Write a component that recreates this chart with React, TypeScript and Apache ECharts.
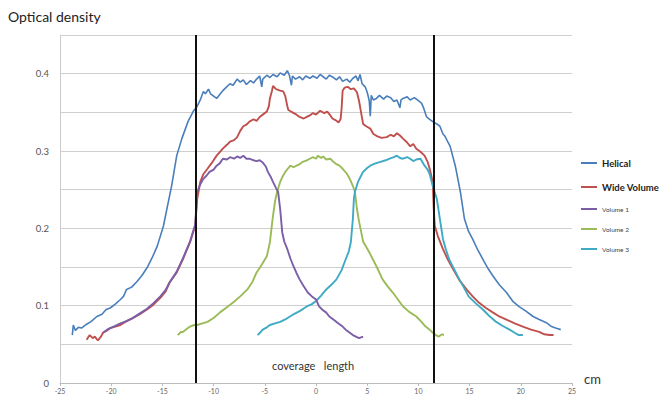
import React, { useEffect, useRef } from "react";
import * as echarts from "echarts";

const X_TICKS = [-25, -20, -15, -10, -5, 0, 5, 10, 15, 20, 25];
const Y_LABELS = [0, 0.1, 0.2, 0.3, 0.4];
const COVERAGE_EDGES = [-11.7, 11.5];
const SERIES_NAMES = ["Helical", "Wide Volume", "Volume 1", "Volume 2", "Volume 3"];
const COLORS = ["#4a7ebb", "#c0504d", "#7b5ea7", "#9bbb59", "#3faac4"];

const helical = [
  [-23.8,0.062],[-23.7,0.075],[-23.5,0.068],[-23.2,0.072],[-22.9,0.071],[-22.4,0.076],[-22.0,0.079],[-21.4,0.086],[-20.9,0.089],[-20.5,0.095],[-20.1,0.097],[-19.6,0.102],[-19.1,0.108],[-18.8,0.112],[-18.5,0.121],[-18.0,0.124],[-17.5,0.131],[-17.0,0.139],[-16.5,0.149],[-16.0,0.162],[-15.5,0.177],[-14.9,0.203],[-14.5,0.229],[-14.1,0.255],[-13.6,0.294],[-13.1,0.316],[-12.5,0.338],[-12.0,0.351],[-11.6,0.358],[-11.3,0.366],[-11.0,0.377],[-10.8,0.374],[-10.5,0.380],[-10.3,0.374],[-10.0,0.371],[-9.7,0.368],[-9.4,0.373],[-9.1,0.378],[-8.8,0.382],[-8.4,0.387],[-8.1,0.385],[-7.7,0.393],[-7.4,0.389],[-7.1,0.392],[-6.8,0.386],[-6.4,0.391],[-6.1,0.388],[-5.8,0.393],[-5.5,0.397],[-5.3,0.383],[-5.2,0.393],[-4.8,0.398],[-4.5,0.395],[-4.2,0.399],[-3.8,0.396],[-3.5,0.401],[-3.1,0.398],[-2.8,0.404],[-2.6,0.398],[-2.4,0.385],[-2.3,0.397],[-2.0,0.393],[-1.6,0.396],[-1.3,0.392],[-1.0,0.397],[-0.6,0.394],[-0.3,0.397],[0.1,0.394],[0.4,0.399],[0.7,0.396],[1.0,0.393],[1.3,0.398],[1.7,0.395],[2.0,0.392],[2.3,0.396],[2.6,0.390],[3.0,0.393],[3.3,0.389],[3.6,0.394],[3.9,0.397],[4.1,0.391],[4.3,0.399],[4.5,0.387],[4.8,0.383],[5.0,0.376],[5.2,0.365],[5.3,0.345],[5.4,0.372],[5.6,0.366],[5.9,0.368],[6.2,0.372],[6.6,0.367],[6.9,0.371],[7.3,0.369],[7.6,0.364],[7.9,0.366],[8.2,0.356],[8.3,0.366],[8.5,0.368],[8.9,0.370],[9.2,0.366],[9.6,0.369],[10.0,0.365],[10.3,0.362],[10.5,0.356],[10.8,0.344],[11.1,0.341],[11.4,0.338],[11.8,0.335],[12.1,0.332],[12.4,0.322],[12.6,0.319],[12.9,0.311],[13.1,0.306],[13.6,0.281],[14.1,0.247],[14.5,0.212],[14.9,0.196],[15.3,0.186],[15.8,0.172],[16.3,0.160],[16.8,0.148],[17.3,0.138],[17.9,0.127],[18.6,0.117],[19.2,0.106],[19.8,0.099],[20.5,0.093],[21.2,0.086],[21.8,0.082],[22.5,0.078],[23.0,0.073],[23.4,0.071],[23.9,0.069]
];

const wideVolume = [
  [-22.4,0.056],[-22.1,0.062],[-21.8,0.058],[-21.6,0.060],[-21.3,0.055],[-21.0,0.060],[-20.8,0.065],[-20.4,0.068],[-20.1,0.071],[-19.6,0.073],[-19.1,0.075],[-18.5,0.080],[-17.9,0.084],[-17.2,0.089],[-16.5,0.095],[-15.9,0.101],[-15.2,0.110],[-14.7,0.118],[-14.3,0.130],[-13.6,0.143],[-13.0,0.160],[-12.3,0.182],[-11.8,0.203],[-11.6,0.238],[-11.3,0.260],[-11.0,0.270],[-10.6,0.277],[-10.1,0.286],[-9.7,0.294],[-9.1,0.303],[-8.7,0.308],[-8.4,0.312],[-8.0,0.314],[-7.7,0.318],[-7.4,0.326],[-7.1,0.332],[-6.8,0.334],[-6.5,0.338],[-6.1,0.341],[-5.8,0.339],[-5.5,0.344],[-5.1,0.348],[-4.8,0.351],[-4.6,0.358],[-4.5,0.368],[-4.3,0.378],[-4.2,0.384],[-3.9,0.380],[-3.5,0.378],[-3.2,0.377],[-3.0,0.371],[-2.8,0.358],[-2.7,0.353],[-2.3,0.350],[-1.9,0.347],[-1.6,0.344],[-1.2,0.342],[-0.9,0.344],[-0.6,0.346],[-0.3,0.349],[0.0,0.347],[0.4,0.352],[0.8,0.349],[1.1,0.351],[1.4,0.346],[1.6,0.342],[1.9,0.340],[2.2,0.337],[2.4,0.341],[2.5,0.355],[2.6,0.378],[2.8,0.382],[3.1,0.383],[3.4,0.380],[3.7,0.381],[4.0,0.376],[4.2,0.365],[4.4,0.350],[4.6,0.335],[4.9,0.332],[5.3,0.329],[5.6,0.322],[6.0,0.319],[6.4,0.317],[6.9,0.318],[7.3,0.321],[7.6,0.319],[7.9,0.323],[8.2,0.320],[8.5,0.316],[8.9,0.311],[9.2,0.306],[9.5,0.309],[9.8,0.303],[10.2,0.299],[10.6,0.294],[10.9,0.286],[11.1,0.277],[11.4,0.260],[11.5,0.225],[11.6,0.203],[11.9,0.190],[12.4,0.173],[12.9,0.159],[13.4,0.147],[14.0,0.133],[14.7,0.121],[15.3,0.112],[15.9,0.104],[16.6,0.097],[17.3,0.091],[17.9,0.086],[18.6,0.082],[19.4,0.077],[20.2,0.073],[21.0,0.069],[21.8,0.066],[22.3,0.063],[22.8,0.062],[23.2,0.062]
];

const volume1 = [
  [-20.8,0.065],[-20.4,0.069],[-20.1,0.071],[-19.6,0.074],[-19.1,0.077],[-18.5,0.080],[-17.9,0.084],[-17.2,0.090],[-16.5,0.096],[-15.9,0.103],[-15.2,0.112],[-14.7,0.120],[-14.3,0.130],[-13.6,0.144],[-13.0,0.161],[-12.3,0.183],[-11.8,0.205],[-11.7,0.225],[-11.6,0.247],[-11.3,0.257],[-11.0,0.264],[-10.7,0.268],[-10.4,0.273],[-10.0,0.276],[-9.7,0.281],[-9.4,0.284],[-9.1,0.290],[-8.7,0.289],[-8.4,0.292],[-8.0,0.290],[-7.7,0.293],[-7.4,0.291],[-7.1,0.294],[-6.8,0.290],[-6.5,0.290],[-6.1,0.288],[-5.8,0.287],[-5.5,0.288],[-5.2,0.285],[-4.9,0.280],[-4.7,0.273],[-4.4,0.266],[-4.2,0.260],[-3.9,0.252],[-3.7,0.247],[-3.5,0.225],[-3.3,0.195],[-3.1,0.183],[-2.8,0.173],[-2.5,0.161],[-2.2,0.151],[-1.9,0.142],[-1.6,0.134],[-1.2,0.125],[-0.8,0.117],[-0.4,0.112],[0.0,0.108],[0.3,0.099],[0.6,0.095],[1.0,0.091],[1.3,0.086],[1.7,0.082],[2.1,0.078],[2.6,0.073],[2.9,0.069],[3.2,0.066],[3.6,0.062],[3.9,0.060],[4.2,0.058],[4.6,0.060]
];

const volume2 = [
  [-13.5,0.062],[-13.2,0.066],[-13.0,0.066],[-12.6,0.070],[-12.3,0.073],[-11.9,0.075],[-11.6,0.075],[-11.1,0.077],[-10.6,0.079],[-10.0,0.084],[-9.4,0.091],[-8.8,0.097],[-8.1,0.104],[-7.4,0.112],[-6.7,0.121],[-6.2,0.131],[-5.8,0.143],[-5.3,0.153],[-4.8,0.164],[-4.5,0.182],[-4.3,0.205],[-4.2,0.216],[-4.0,0.235],[-3.8,0.247],[-3.5,0.260],[-3.3,0.266],[-3.0,0.273],[-2.7,0.278],[-2.5,0.281],[-2.2,0.279],[-1.9,0.281],[-1.6,0.283],[-1.3,0.286],[-0.9,0.288],[-0.6,0.290],[-0.3,0.292],[0.0,0.290],[0.2,0.294],[0.5,0.291],[0.7,0.293],[1.0,0.289],[1.4,0.290],[1.7,0.286],[2.0,0.283],[2.3,0.281],[2.6,0.277],[3.0,0.271],[3.3,0.264],[3.6,0.255],[3.8,0.247],[4.0,0.225],[4.2,0.209],[4.4,0.196],[4.6,0.183],[5.2,0.169],[5.9,0.151],[6.5,0.134],[7.0,0.125],[7.5,0.117],[8.0,0.108],[8.5,0.099],[9.1,0.092],[9.8,0.086],[10.3,0.079],[10.7,0.073],[11.1,0.069],[11.4,0.065],[11.7,0.062],[12.0,0.060],[12.3,0.063],[12.5,0.062]
];

const volume3 = [
  [-5.7,0.062],[-5.4,0.066],[-5.2,0.069],[-4.8,0.072],[-4.5,0.075],[-4.0,0.077],[-3.5,0.079],[-2.9,0.083],[-2.3,0.088],[-1.6,0.093],[-0.9,0.099],[-0.4,0.102],[0.0,0.106],[0.5,0.113],[1.0,0.121],[1.5,0.127],[2.0,0.134],[2.5,0.146],[2.9,0.160],[3.2,0.170],[3.4,0.182],[3.6,0.212],[3.7,0.238],[3.8,0.247],[4.1,0.260],[4.4,0.268],[4.6,0.273],[5.0,0.278],[5.3,0.281],[5.8,0.284],[6.3,0.286],[6.8,0.288],[7.2,0.290],[7.6,0.292],[7.9,0.294],[8.2,0.291],[8.5,0.290],[8.9,0.292],[9.2,0.290],[9.5,0.287],[9.8,0.289],[10.2,0.290],[10.6,0.281],[10.9,0.276],[11.1,0.270],[11.4,0.255],[11.8,0.238],[12.1,0.212],[12.4,0.186],[12.7,0.172],[13.0,0.160],[13.5,0.147],[14.0,0.134],[14.5,0.122],[14.9,0.112],[15.6,0.103],[16.3,0.095],[16.9,0.087],[17.6,0.079],[18.2,0.074],[18.9,0.069],[19.4,0.065],[19.8,0.062],[20.2,0.062]
];

const SERIES_DATA = [helical, wideVolume, volume1, volume2, volume3];
const FONT = "Lato, 'Open Sans', sans-serif";

export default function App() {
  const ref = useRef<HTMLDivElement>(null);
  useEffect(() => {
    if (!ref.current) return;
    document.body.style.margin = "0";
    const chart = echarts.init(ref.current, undefined, { renderer: "svg" });
    const series: any[] = SERIES_NAMES.map((name, i) => ({
      name,
      type: "line",
      data: SERIES_DATA[i],
      showSymbol: false,
      symbol: "none",
      lineStyle: { color: COLORS[i], width: i === 0 ? 1.6 : 1.9 },
      itemStyle: { color: COLORS[i] },
      z: i === 2 ? 4 : 3,
    }));
    series[0].markLine = {
      silent: true,
      symbol: "none",
      label: { show: false },
      lineStyle: { color: "#111", width: 2, type: "solid" },
      data: COVERAGE_EDGES.map((v) => ({ xAxis: v })),
    };
    const bigLabel = { fontSize: 9.5, fontWeight: "bold", color: "#222", fontFamily: FONT, lineHeight: 12 };
    const smallLabel = { fontSize: 6.5, color: "#444", fontFamily: FONT, lineHeight: 8 };
    chart.setOption({
      animation: false,
      backgroundColor: "#fff",
      grid: { left: 60, right: 98, top: 35, bottom: 16, containLabel: false },
      xAxis: {
        type: "value",
        min: X_TICKS[0],
        max: X_TICKS[X_TICKS.length - 1],
        interval: 5,
        splitLine: { show: false },
        axisLine: { show: true, onZero: false, lineStyle: { color: "#bbb", width: 1 } },
        axisTick: { show: true, length: 3, lineStyle: { color: "#bbb" } },
        axisLabel: { fontSize: 7, color: "#666", margin: 4, fontFamily: FONT },
      },
      yAxis: {
        type: "value",
        min: 0,
        max: 0.45,
        interval: 0.05,
        axisLine: { show: true, onZero: false, lineStyle: { color: "#ccc" } },
        axisTick: { show: false },
        splitLine: { show: true, lineStyle: { color: "#cfcfcf", width: 1.2 } },
        axisLabel: {
          fontSize: 9.5,
          color: "#555",
          margin: 11,
          fontFamily: FONT,
          formatter: (v: number) => {
            const hit = Y_LABELS.find((l) => Math.abs(l - v) < 1e-6);
            if (hit === undefined) return "";
            return hit === 0 ? "0" : hit.toFixed(1);
          },
        },
      },
      legend: {
        orient: "vertical",
        left: 581,
        top: 157,
        itemWidth: 16,
        itemHeight: 2,
        itemGap: 12,
        icon: "rect",
        padding: 0,
        data: SERIES_NAMES.map((n, i) => ({
          name: n,
          textStyle: i < 2 ? bigLabel : smallLabel,
        })),
      },
      graphic: [
        { type: "text", left: 8, top: 9, style: { text: "Optical density", fontSize: 14, fill: "#222", fontFamily: FONT } },
        { type: "text", left: 272, top: 360, style: { text: "coverage   length", fontSize: 11, fill: "#333", fontFamily: FONT } },
        { type: "text", left: 584, top: 372, style: { text: "cm", fontSize: 13, fill: "#333", fontFamily: FONT } },
      ],
      series,
    });
    return () => chart.dispose();
  }, []);
  return <div ref={ref} style={{ width: 670, height: 399 }} />;
}
